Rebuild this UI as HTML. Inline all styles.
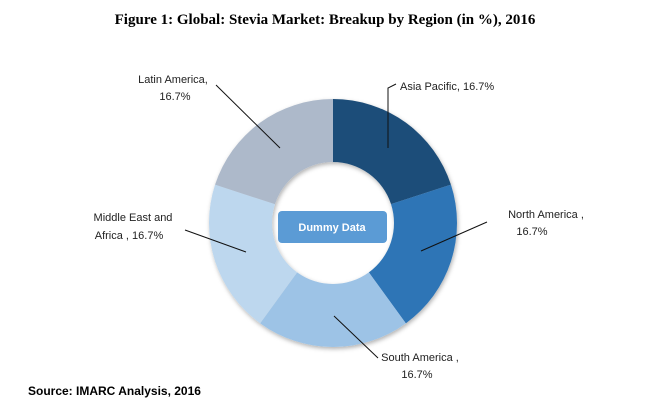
<!DOCTYPE html>
<html><head><meta charset="utf-8"><style>
body{margin:0;background:#fff;width:650px;height:403px;overflow:hidden}
svg text{font-family:"Liberation Sans",sans-serif;font-size:11px;fill:#222}
</style></head><body>
<svg width="650" height="403">
<defs><filter id="sh" x="-20%" y="-20%" width="140%" height="140%"><feDropShadow dx="1" dy="2" stdDeviation="2" flood-opacity="0.3"/></filter></defs>
<text x="325" y="24" text-anchor="middle" style="font-family:'Liberation Serif',serif;font-weight:bold;font-size:15px;fill:#000">Figure 1: Global: Stevia Market: Breakup by Region (in %), 2016</text>
<g id="slices" filter="url(#sh)"></g>
<g id="labels"></g>
<rect x="278" y="211" width="109" height="32" rx="4" fill="#5B9BD5"/>
<text x="332" y="231" text-anchor="middle" style="font-weight:bold;fill:#fff;font-size:11px">Dummy Data</text>
<text x="28" y="395" style="font-weight:bold;font-size:12px;fill:#000">Source: IMARC Analysis, 2016</text>
</svg>
<script>
const categories=["Asia Pacific","North America","South America","Middle East and Africa","Latin America"];
const values=[16.7,16.7,16.7,16.7,16.7];
const colors=["#1F4E79","#2E75B6","#9DC3E6","#BDD7EE","#ADB9CA"];
const cx=333,cy=223,R=124,r=61;
const ns="http://www.w3.org/2000/svg";
const g=document.getElementById('slices');
const total=values.reduce((a,b)=>a+b,0);
let a0=0;
function pt(rad,a){return [cx+rad*Math.sin(a),cy-rad*Math.cos(a)];}
values.forEach((v,i)=>{
 const a1=a0+v/total*2*Math.PI;
 const [x1,y1]=pt(R,a0),[x2,y2]=pt(R,a1),[x3,y3]=pt(r,a1),[x4,y4]=pt(r,a0);
 const lg=(a1-a0)>Math.PI?1:0;
 const p=document.createElementNS(ns,'path');
 p.setAttribute('d',`M${x1},${y1}A${R},${R} 0 ${lg} 1 ${x2},${y2}L${x3},${y3}A${r},${r} 0 ${lg} 0 ${x4},${y4}Z`);
 p.setAttribute('fill',colors[i]);
 
 
 g.appendChild(p);
 a0=a1;
});
const L=document.getElementById('labels');
const lbl=[
 {pts:[[388,148],[388,88],[396,84]],lines:[["Asia Pacific, "+values[0]+"%",400,90,"start"]]},
 {pts:[[421,251],[487,222]],lines:[["North America ,",546,218,"middle"],[values[1]+"%",532,235,"middle"]]},
 {pts:[[334,316],[378,358]],lines:[["South America ,",420,361,"middle"],[values[2]+"%",417,378,"middle"]]},
 {pts:[[246,252],[185,230]],lines:[["Middle East and",133,221,"middle"],["Africa , "+values[3]+"%",129,239,"middle"]]},
 {pts:[[280,148],[216,85]],lines:[["Latin America,",173,83,"middle"],[values[4]+"%",175,100,"middle"]]}
];
lbl.forEach((o,i)=>{
 const pl=document.createElementNS(ns,'polyline');
 pl.setAttribute('points',o.pts.map(p=>p.join(',')).join(' '));
 pl.setAttribute('fill','none');pl.setAttribute('stroke','#111');pl.setAttribute('stroke-width','1');
 
 
 L.appendChild(pl);
 o.lines.forEach(([t,x,y,an])=>{
  const tx=document.createElementNS(ns,'text');
  tx.setAttribute('x',x);tx.setAttribute('y',y);tx.setAttribute('text-anchor',an);
  tx.textContent=t;
  
  
  L.appendChild(tx);
 });
});
</script>
</body></html>
